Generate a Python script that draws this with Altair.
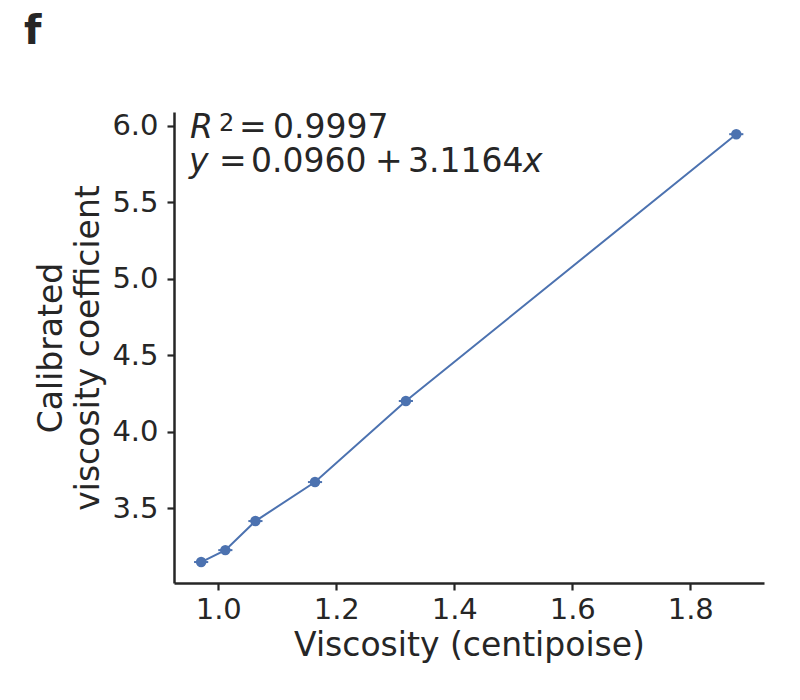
import altair as alt
import pandas as pd

# Data
viscosity = [0.971, 1.012, 1.063, 1.164, 1.318, 1.878]
coefficient = [3.147, 3.225, 3.415, 3.670, 4.200, 5.945]
x_err = [0.012, 0.012, 0.012, 0.012, 0.012, 0.012]

x_ticks = [1.0, 1.2, 1.4, 1.6, 1.8]
y_ticks = [3.5, 4.0, 4.5, 5.0, 5.5, 6.0]

df = pd.DataFrame({
    "x": viscosity,
    "y": coefficient,
    "lo": [v - e for v, e in zip(viscosity, x_err)],
    "hi": [v + e for v, e in zip(viscosity, x_err)],
})

BLUE = "#4C72B0"
DARK = "#262626"
FONT = "DejaVu Sans"

xs = alt.Scale(domain=[0.925, 1.925], nice=False, zero=False)
ys = alt.Scale(domain=[3.01, 6.09], nice=False, zero=False)

x_axis = alt.Axis(values=x_ticks, format=".1f", title="Viscosity (centipoise)",
                  grid=False, labelFontSize=29, titleFontSize=33,
                  labelPadding=5, titlePadding=5)
y_axis = alt.Axis(values=y_ticks, format=".1f",
                  title=["Calibrated", "viscosity coefficient"],
                  grid=False, labelFontSize=29, titleFontSize=33,
                  titleLineHeight=37, labelPadding=9, titlePadding=6)

base = alt.Chart(df)

line = base.mark_line(color=BLUE, strokeWidth=2).encode(
    x=alt.X("x:Q", scale=xs, axis=x_axis),
    y=alt.Y("y:Q", scale=ys, axis=y_axis),
)
err = base.mark_rule(color=BLUE, strokeWidth=2).encode(
    x=alt.X("lo:Q", scale=xs), x2="hi:Q", y=alt.Y("y:Q", scale=ys)
)
pts = base.mark_circle(color=BLUE, size=110, opacity=1).encode(
    x=alt.X("x:Q", scale=xs), y=alt.Y("y:Q", scale=ys)
)

ann_df = pd.DataFrame({"d": [0]})


def txt(t, x, y, size=33, style="normal", weight="normal"):
    return alt.Chart(ann_df).mark_text(
        text=t, align="left", baseline="alphabetic", fontSize=size,
        fontStyle=style, fontWeight=weight, font=FONT, color=DARK
    ).encode(x=alt.value(x), y=alt.value(y))


annotations = [
    txt("R", 16, 26, style="italic"),
    txt("2", 45, 19, size=24),
    txt("=", 65, 26),
    txt("0.9997", 99, 26),
    txt("y", 15, 60, style="italic"),
    txt("=", 45, 60),
    txt("0.0960", 77, 60),
    txt("+", 201, 60),
    txt("3.1164", 234, 60),
    txt("x", 349, 60, style="italic"),
    txt("f", -150, -68, size=40, weight="bold"),
]

chart = alt.layer(line, err, pts, *annotations).properties(
    width=590, height=471,
    autosize=alt.AutoSizeParams(type="none"),
    padding={"left": 166, "top": 104, "right": 20, "bottom": 90},
).configure_view(stroke=None).configure_axis(
    domainColor=DARK, domainWidth=2.5, tickColor=DARK, tickWidth=2.2, tickSize=7,
    labelColor=DARK, titleColor=DARK, labelFont=FONT, titleFont=FONT,
    titleFontWeight="normal",
)

chart.save("out.html", embed_options={"renderer": "svg", "actions": False})
